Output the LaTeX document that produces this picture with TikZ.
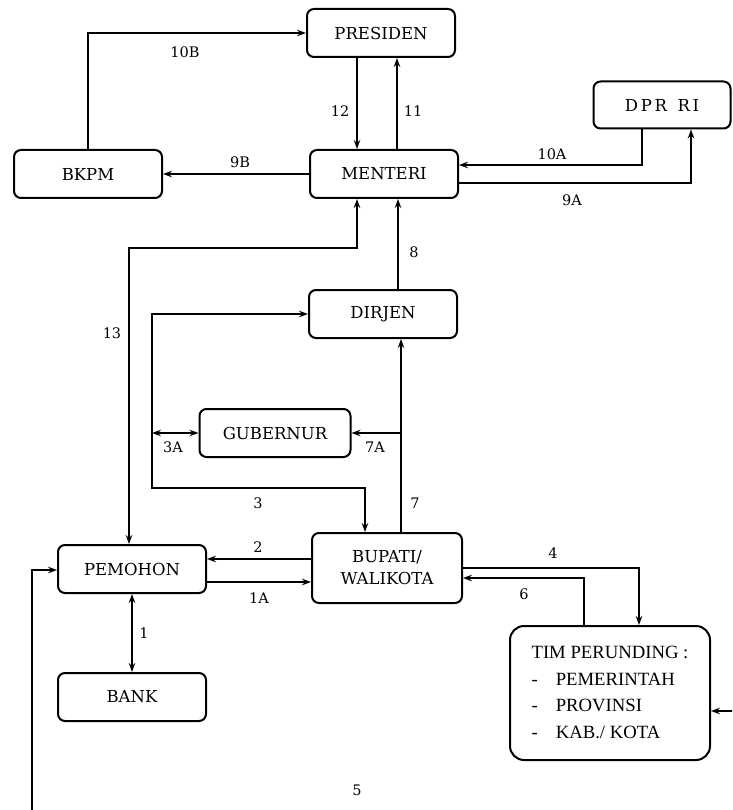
\documentclass[tikz,border=0pt]{standalone}
\usepackage{fontspec}
\setmainfont{DejaVu Serif}
\newfontfamily\timfont{Liberation Serif}
\usetikzlibrary{arrows.meta,positioning}

\begin{document}
\begin{tikzpicture}[%
	x=1pt,y=-1pt,>={Stealth[length=9pt,width=6.5pt]},
	box/.style={draw,line width=2pt,rounded corners=7pt,minimum width=148pt,
		minimum height=48pt,inner sep=0pt,font=\fontsize{16.5}{22}\selectfont},
	conn/.style={line width=1.6pt},
	lbl/.style={font=\fontsize{14.5}{16}\selectfont}]

	\useasboundingbox (0,0) rectangle (732,810);
	\clip (0,0) rectangle (732,810);

	\node[box]	(PRES)	at (381,33)	{PRESIDEN};
	\node[box]	(MEN)	at (384,174)	{MENTERI};
	\node[box]	(BKPM)	at (88,174)	{BKPM};
	\node[box,minimum width=137pt,minimum height=47pt]	(DPR)	at (662,105)	{D\,P\,R\ \ R\,I};
	\node[box]	(DIR)	at (383,314)	{DIRJEN};
	\node[box,minimum width=151pt]	(GUB)	at (275,433)	{GUBERNUR};
	\node[box,minimum width=150pt,minimum height=70pt,align=center]	(BUP)	at (387,568)	{BUPATI/\\WALIKOTA};
	\node[box]	(PEM)	at (132,569)	{PEMOHON};
	\node[box]	(BANK)	at (132,697)	{BANK};
	\node[box,minimum width=200pt,minimum height=134pt,rounded corners=14pt,
		font=\timfont\fontsize{18.7}{26.5}\selectfont]	(TIM)	at (610,693)	{%
		\begin{tabular}{@{}l@{\hspace{18pt}}l@{}}
			\multicolumn{2}{@{}l@{}}{TIM PERUNDING :}\\
			- & PEMERINTAH\\
			- & PROVINSI\\
			- & KAB./ KOTA
		\end{tabular}};

	% top part
	\draw[conn,->] (BKPM.north) |- (PRES.west);
	\draw[conn,->] (MEN.west) -- (BKPM.east);
	\draw[conn,->] (PRES.south -| 357,0) -- (MEN.north -| 357,0);
	\draw[conn,->] (MEN.north -| 397,0) -- (PRES.south -| 397,0);
	\draw[conn,->] (DPR.south -| 642,0) |- (MEN.east |- 0,165);
	\draw[conn,->] (MEN.east |- 0,183) -| (DPR.south -| 691,0);
	\draw[conn,->] (DIR.north -| 398,0) -- (MEN.south -| 398,0);
	\draw[conn,<->] (MEN.south -| 357,0) -- (357,248) -| (PEM.north -| 129,0);

	% middle part
	\draw[conn,<->] (DIR.west) -| (152,488) -| (BUP.north -| 365,0);
	\draw[conn,<->] (GUB.west -| 152,0) -- (GUB.west);
	\draw[conn,->] (BUP.north -| 401,0) -- (DIR.south -| 401,0);
	\draw[conn,->] (GUB.east -| 401,0) -- (GUB.east);

	% bottom part
	\draw[conn,->] (BUP.west |- 0,559) -- (PEM.east |- 0,559);
	\draw[conn,->] (PEM.east |- 0,582) -- (BUP.west |- 0,582);
	\draw[conn,<->] (PEM.south) -- (BANK.north);
	\draw[conn,->] (BUP.east |- 0,568) -| (TIM.north -| 639,0);
	\draw[conn,->] (TIM.north -| 584,0) |- (BUP.east |- 0,578);
	\draw[conn,<->] (PEM.west |- 0,570) -| (32,830) -| (745,711) -- (TIM.east |- 0,711);

	% labels
	\node[lbl] (l10B)	at (185,52)	{10B};
	\node[lbl] (l9B)	at (240,162)	{9B};
	\node[lbl] (l12)	at (340,111)	{12};
	\node[lbl] (l11)	at (413,111)	{11};
	\node[lbl] (l10A)	at (552,154)	{10A};
	\node[lbl] (l9A)	at (572,200)	{9A};
	\node[lbl] (l8)		at (414,252)	{8};
	\node[lbl] (l13)	at (112,333)	{13};
	\node[lbl] (l3A)	at (173,447)	{3A};
	\node[lbl] (l7A)	at (375,447)	{7A};
	\node[lbl] (l3)		at (258,503)	{3};
	\node[lbl] (l7)		at (415,503)	{7};
	\node[lbl] (l2)		at (258,547)	{2};
	\node[lbl] (l1A)	at (259,598)	{1A};
	\node[lbl] (l1)		at (144,633)	{1};
	\node[lbl] (l4)		at (553,553)	{4};
	\node[lbl] (l6)		at (524,594)	{6};
	\node[lbl] (l5)		at (357,790)	{5};

\end{tikzpicture}
\end{document}
